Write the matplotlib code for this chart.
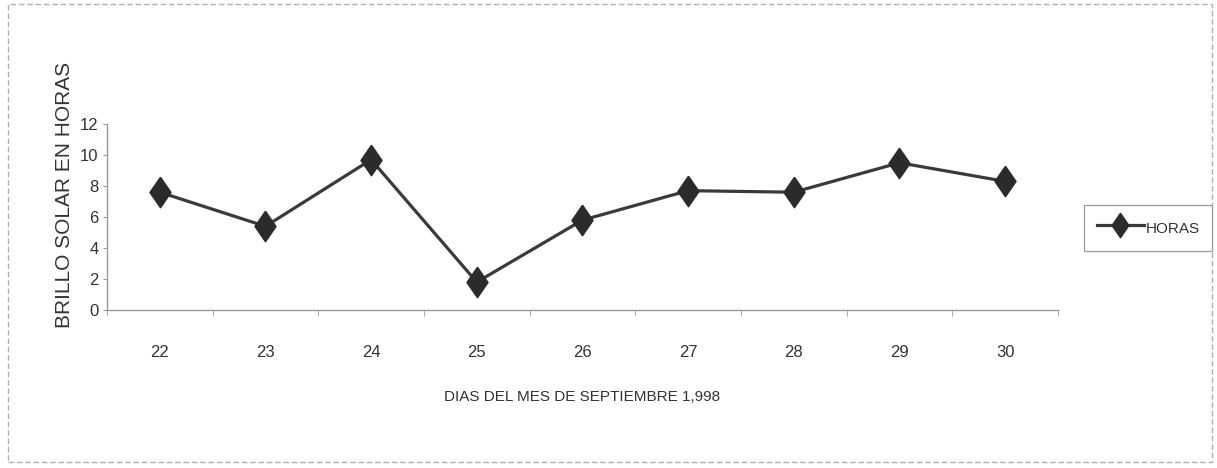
import matplotlib.pyplot as plt
from matplotlib.patches import Rectangle

# Brillo solar diario, septiembre 1998
dias = ['22', '23', '24', '25', '26', '27', '28', '29', '30']
horas = [7.6, 5.4, 9.7, 1.8, 5.8, 7.7, 7.6, 9.5, 8.3]
y_ticks = [0, 2, 4, 6, 8, 10, 12]

SANS = ['Liberation Sans', 'DejaVu Sans']

fig = plt.figure(figsize=(12.17, 4.68), dpi=100, facecolor='white')
ax = fig.add_axes([0.0879, 0.3376, 0.7814, 0.3974])

# tall diamond marker
diamond = [(0, 1), (0.69, 0), (0, -1), (-0.69, 0), (0, 1)]

x = list(range(len(dias)))
ax.plot(x, horas, color='#3a3a3a', lw=2.3, marker=diamond, markersize=22,
        markerfacecolor='#2b2b2b', markeredgecolor='#2b2b2b', label='HORAS')

ax.set_xlim(-0.5, len(dias) - 0.5)
ax.set_ylim(0, 12)
ax.set_yticks(y_ticks)
ax.set_yticklabels([str(v) for v in y_ticks], family=SANS, fontsize=12, color='#333333')
ax.set_xticks(x)
ax.set_xticklabels(dias, family=SANS, fontsize=12, color='#333333')
ax.set_xticks([i + 0.5 for i in range(-1, len(dias))], minor=True)

ax.tick_params(axis='x', which='major', length=0, pad=25)
ax.tick_params(axis='x', which='minor', length=4, color='#999999')
ax.tick_params(axis='y', length=3, color='#999999', pad=3)

for side in ['top', 'right']:
    ax.spines[side].set_visible(False)
for side in ['left', 'bottom']:
    ax.spines[side].set_color('#9a9a9a')
    ax.spines[side].set_linewidth(1.0)

ax.set_ylabel('BRILLO SOLAR EN HORAS', family=SANS, fontsize=15, color='#333333')
ax.yaxis.set_label_coords(-0.035, 0.62)
ax.set_xlabel('DIAS DEL MES DE SEPTIEMBRE 1,998', family=SANS, fontsize=11,
              color='#333333', labelpad=22)

leg = fig.legend(loc='center left', bbox_to_anchor=(0.891, 0.513),
                 prop={'family': SANS, 'size': 11}, handlelength=3.1,
                 handleheight=1.8, handletextpad=0.1, borderpad=0.8,
                 borderaxespad=0, fancybox=False, framealpha=1,
                 edgecolor='#9a9a9a', markerscale=0.8)
leg.get_frame().set_linewidth(0.9)
for t in leg.get_texts():
    t.set_color('#333333')

# chart outline
fig.patches.append(Rectangle((0.0066, 0.013), 0.9897, 0.978,
                             transform=fig.transFigure, fill=False,
                             edgecolor='#b0b0b0', lw=1.0, ls=(0, (4, 2))))

fig.savefig('out.png', dpi=100, facecolor='white')
